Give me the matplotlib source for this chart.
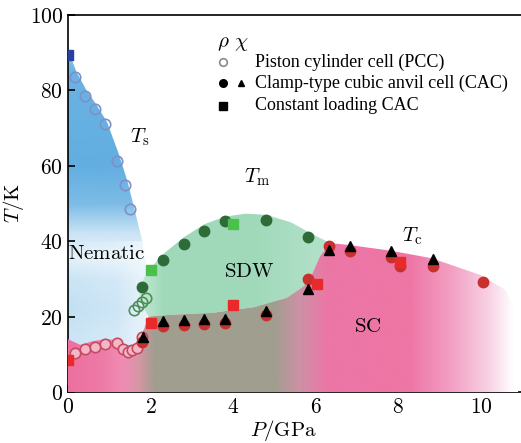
import numpy as np
import matplotlib
matplotlib.use('Agg')
import matplotlib.pyplot as plt
from matplotlib.patches import Polygon
from matplotlib.ticker import FuncFormatter

plt.rcParams['mathtext.fontset'] = 'cm'

# ---- measured transition temperatures (P in GPa, T in K) ----
# piston cylinder cell, open circles
ts_pcc_p = [0.17, 0.40, 0.65, 0.90, 1.19, 1.38, 1.50]
ts_pcc_t = [83.5, 78.5, 75.0, 71.0, 61.3, 55.0, 48.5]
tm_pcc_p = [1.60, 1.70, 1.80, 1.90]
tm_pcc_t = [21.8, 22.8, 23.9, 25.0]
tc_pcc_p = [0.17, 0.41, 0.65, 0.90, 1.19, 1.33, 1.45, 1.55, 1.67, 1.80]
tc_pcc_t = [10.3, 11.4, 12.0, 12.7, 12.9, 11.4, 10.6, 11.1, 11.8, 14.6]

# clamp-type cubic anvil cell, resistivity (circles) and susceptibility (triangles)
tm_cac_p = [1.80, 2.30, 2.80, 3.30, 3.80, 4.80, 5.82]
tm_cac_t = [27.9, 35.0, 39.3, 42.8, 45.3, 45.6, 41.1]
tc_cac_p = [1.80, 2.30, 2.80, 3.30, 3.80, 4.80, 5.82, 6.33, 6.82, 7.82, 8.03, 8.84, 10.05]
tc_cac_t = [13.2, 17.5, 17.8, 18.0, 18.3, 20.5, 30.0, 38.6, 37.5, 35.8, 33.3, 33.3, 29.3]
tc_chi_p = [1.82, 2.30, 2.80, 3.30, 3.80, 4.80, 5.80, 6.33, 6.82, 7.82, 8.84]
tc_chi_t = [14.6, 18.8, 19.0, 19.3, 19.3, 21.5, 27.3, 37.7, 38.8, 37.5, 35.2]

# constant loading CAC, squares
ts_const_p = [0.0]
ts_const_t = [89.3]
tm_const_p = [2.0, 4.0]
tm_const_t = [32.3, 44.5]
tc_const_p = [0.0, 2.0, 4.0, 6.04, 8.03]
tc_const_t = [8.5, 18.3, 23.1, 28.6, 34.5]

# ---- phase region outlines ----
nem_p = [0, 0, 0.2, 0.45, 0.7, 0.95, 1.25, 1.45, 1.62, 1.8, 1.92, 1.97, 1.9, 1.5, 0]
nem_t = [0, 91, 85, 80, 76, 71.5, 62.5, 55.5, 48, 40, 32, 25, 18, 0, 0]
sdw_p = [1.95, 1.75, 1.72, 1.85, 2.05, 2.35, 2.8, 3.3, 3.8, 4.3, 4.8, 5.4, 5.9, 6.35,
         6.1, 5.9, 5.7, 5.3, 4.5, 3.5, 2.5]
sdw_t = [20, 24, 27, 30.5, 33.5, 37, 41, 44.5, 46.5, 47.3, 47, 45, 42, 39.5,
         36, 31, 28, 25, 22.5, 21, 20.5]
sc_p = [0, 0, 0.3, 0.6, 0.9, 1.2, 1.4, 1.6, 1.75, 1.85, 1.95, 2.5, 3.5, 4.5, 5.3, 5.7,
        5.9, 6.1, 6.35, 6.8, 7.8, 8.8, 10.0, 10.6, 10.9, 10.9]
sc_t = [0, 14, 12.5, 13.5, 14, 13.8, 12.5, 12.5, 14.5, 17, 20, 20.5, 21, 22.5, 25, 28,
        31, 36, 39.5, 39, 37.5, 35.5, 31, 27, 20, 0]

XMAX, YMAX = 10.97, 100

fig = plt.figure(figsize=(5.21, 4.43), dpi=100)
ax = fig.add_axes([68 / 521, 51 / 443, 1 - 68 / 521, 377 / 443])
ax.set_xlim(0, XMAX)
ax.set_ylim(0, YMAX)

nx, ny = 500, 400
gx = np.linspace(0, XMAX, nx)
gy = np.linspace(0, YMAX, ny)


def shaded(verts_p, verts_t, rgba, z):
    poly = Polygon(np.column_stack([verts_p, verts_t]), closed=True,
                   facecolor='none', edgecolor='none', transform=ax.transData)
    ax.add_patch(poly)
    im = ax.imshow(rgba, extent=[0, XMAX, 0, YMAX], origin='lower',
                   aspect='auto', zorder=z, interpolation='bilinear')
    im.set_clip_path(poly)


def ramp(x, stops, cols):
    cols = np.asarray(cols, float) / 255
    return np.stack([np.interp(x, stops, cols[:, i]) for i in range(3)], axis=-1)


# nematic region: blue, fading out toward low temperature
blue = np.zeros((ny, nx, 4))
blue[..., :3] = np.array([80, 165, 222]) / 255
a_t = np.interp(gy, [0, 15, 22, 30, 36, 42, 50, 60, 85, 92],
                [0.3, 0.3, 0.35, 0.3, 0.15, 0.3, 0.75, 0.9, 0.85, 0.55])
a_p = np.interp(gx, [0, 1.2, 1.9], [1.0, 0.8, 0.4])
blue[..., 3] = a_t[:, None] * np.where(gy[:, None] < 40, a_p[None, :], 1.0)
shaded(nem_p, nem_t, blue, 1)

# SDW dome
green = np.ones((ny, nx, 4))
green[..., :3] = ramp(gx, [1.7, 2.3, 4.5, 6.3],
                      [(200, 235, 215), (160, 217, 186), (160, 217, 186), (180, 226, 203)])[None, :, :]
shaded(sdw_p, sdw_t, green, 2)

# superconducting / coexistence region, coloured along pressure
sc_stops = [0, 0.8, 1.3, 1.7, 2.1, 5.0, 5.6, 6.3, 8.3, 9.3, 10.2, 10.8]
sc_cols = [(236, 112, 160), (238, 122, 166), (240, 140, 180), (215, 150, 165),
           (160, 158, 143), (160, 158, 143), (205, 145, 165), (236, 118, 165),
           (238, 118, 166), (242, 160, 195), (248, 210, 228), (255, 255, 255)]
pink = np.ones((ny, nx, 4))
pink[..., :3] = ramp(gx, sc_stops, sc_cols)[None, :, :]
shaded(sc_p, sc_t, pink, 3)

ms = 7.5
# PCC open circles
ax.plot(ts_pcc_p, ts_pcc_t, 'o', ms=ms, mfc='none', mec='#7f8fc8', mew=1.2, zorder=5)
ax.plot(tm_pcc_p, tm_pcc_t, 'o', ms=ms, mfc='none', mec='#4f8f5a', mew=1.2, zorder=5)
ax.plot(tc_pcc_p, tc_pcc_t, 'o', ms=ms, mfc='#f2b8c8', mec='#c84a62', mew=1.2, zorder=5)
# CAC filled circles and triangles
ax.plot(tm_cac_p, tm_cac_t, 'o', ms=ms, color='#2e6b38', zorder=6)
ax.plot(tc_cac_p, tc_cac_t, 'o', ms=ms, color='#c8302e', zorder=6)
ax.plot(tc_chi_p, tc_chi_t, '^', ms=6.5, color='black', zorder=7)
# constant loading squares
ax.plot(ts_const_p, ts_const_t, 's', ms=7, color='#2840a0', zorder=6)
ax.plot(tm_const_p, tm_const_t, 's', ms=7, color='#4cc04c', zorder=6)
ax.plot(tc_const_p, tc_const_t, 's', ms=7, color='#ea2a2a', zorder=6)

# region and line labels
lab = dict(fontsize=15, ha='center', va='center', zorder=8)
ax.text(1.74, 67.5, r'$T_{\mathrm{s}}$', **lab)
ax.text(0.94, 36.9, r'$\mathrm{Nematic}$', **lab)
ax.text(4.58, 57.0, r'$T_{\mathrm{m}}$', **lab)
ax.text(4.4, 32.0, r'$\mathrm{SDW}$', **lab)
ax.text(8.33, 41.4, r'$T_{\mathrm{c}}$', **lab)
ax.text(7.26, 17.5, r'$\mathrm{SC}$', **lab)

# legend
lx1, lx2, ltx = 3.75, 4.19, 4.53
ax.text(lx1, 92.6, r'$\rho$', fontsize=15, ha='center', va='center')
ax.text(lx2, 92.6, r'$\chi$', fontsize=15, ha='center', va='center')
ax.plot([lx1], [87.5], 'o', ms=5.5, mfc='white', mec='#8a8a8a', mew=1.2)
ax.plot([lx1], [82.0], 'o', ms=5.5, color='black')
ax.plot([lx2], [82.0], '^', ms=5, color='black')
ax.plot([lx1], [75.9], 's', ms=5.5, color='black')
leg = dict(fontsize=13, family='Liberation Serif', ha='left', va='center')
ax.text(ltx, 87.5, 'Piston cylinder cell (PCC)', **leg)
ax.text(ltx, 82.0, 'Clamp-type cubic anvil cell (CAC)', **leg)
ax.text(ltx, 75.9, 'Constant loading CAC', **leg)

ax.set_xticks([0, 2, 4, 6, 8, 10])
ax.set_yticks([0, 20, 40, 60, 80, 100])
fmt = FuncFormatter(lambda v, _: r'$%d$' % v)
ax.xaxis.set_major_formatter(fmt)
ax.yaxis.set_major_formatter(fmt)
ax.tick_params(direction='in', length=5, width=1.2, labelsize=15.5, top=False, right=False)
ax.spines['right'].set_visible(False)
for s in ['left', 'bottom', 'top']:
    ax.spines[s].set_linewidth(1.2)
ax.set_xlabel(r'$P/\mathrm{GPa}$', fontsize=15)
ax.set_ylabel(r'$T/\mathrm{K}$', fontsize=15)
ax.xaxis.set_label_coords(0.475, -0.068)
ax.yaxis.set_label_coords(-0.093, 0.5)

fig.savefig('out.png', dpi=100)
